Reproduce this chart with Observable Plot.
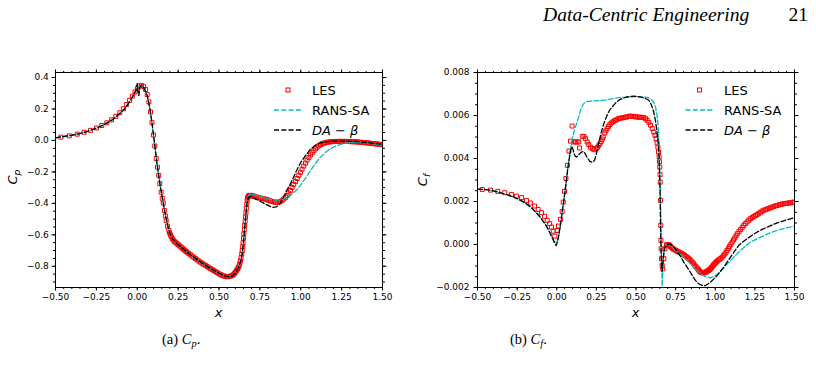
<!DOCTYPE html>
<html>
<head>
<meta charset="utf-8">
<script src="https://cdn.jsdelivr.net/npm/d3@7"></script>
<script src="https://cdn.jsdelivr.net/npm/@observablehq/plot@0.6"></script>
<style>
  html, body { margin: 0; padding: 0; background: #fff; }
  #page { position: relative; width: 816px; height: 370px; overflow: hidden; background: #fff; }
  #page > svg { position: absolute; }
</style>
</head>
<body>
<div id="page"></div>
<script>
// Axis ticks shared by both panels
const xMajor = [-0.5, -0.25, 0, 0.25, 0.5, 0.75, 1, 1.25, 1.5];
const cpMajor = [-0.8, -0.6, -0.4, -0.2, 0, 0.2, 0.4];
const cfMajor = [-0.002, 0, 0.002, 0.004, 0.006, 0.008];
const xMinor = d3.range(-0.5, 1.5001, 0.05);
const cpMinor = d3.range(-0.9, 0.4001, 0.05);
const cfMinor = d3.range(-0.002, 0.00801, 0.0005);

const seriesNames = ["LES", "RANS-SA", "DA − β"];

// Pressure coefficient Cp along x: [x, Cp]
const lesCp = [
  [-0.467,0.021],[-0.416,0.029],[-0.367,0.040],[-0.325,0.052],[-0.286,0.064],[-0.249,0.079],
  [-0.217,0.095],[-0.186,0.112],[-0.157,0.131],[-0.131,0.153],[-0.107,0.176],[-0.085,0.202],
  [-0.065,0.228],[-0.047,0.255],[-0.030,0.282],[-0.014,0.308],[0.001,0.332],[0.014,0.346],
  [0.026,0.350],[0.039,0.342],[0.051,0.324],[0.061,0.292],[0.071,0.245],[0.081,0.181],
  [0.090,0.113],[0.099,0.035],[0.107,-0.035],[0.116,-0.115],[0.124,-0.170],[0.131,-0.222],
  [0.138,-0.275],[0.146,-0.329],[0.153,-0.368],[0.159,-0.398],[0.166,-0.445],[0.172,-0.480],
  [0.177,-0.509],[0.185,-0.545],[0.193,-0.573],[0.198,-0.588],[0.203,-0.600],[0.208,-0.612],
  [0.214,-0.624],[0.221,-0.634],[0.228,-0.643],[0.236,-0.650],[0.244,-0.657],[0.252,-0.664],
  [0.260,-0.671],[0.268,-0.678],[0.275,-0.685],[0.283,-0.692],[0.290,-0.698],[0.298,-0.705],
  [0.305,-0.711],[0.315,-0.719],[0.325,-0.727],[0.336,-0.735],[0.346,-0.743],[0.356,-0.751],
  [0.366,-0.759],[0.377,-0.767],[0.387,-0.774],[0.397,-0.781],[0.407,-0.788],[0.418,-0.795],
  [0.428,-0.802],[0.438,-0.809],[0.448,-0.815],[0.458,-0.821],[0.468,-0.827],[0.478,-0.834],
  [0.488,-0.840],[0.499,-0.847],[0.509,-0.853],[0.518,-0.857],[0.528,-0.861],[0.537,-0.864],
  [0.546,-0.866],[0.555,-0.866],[0.564,-0.864],[0.573,-0.862],[0.581,-0.859],[0.588,-0.853],
  [0.595,-0.845],[0.601,-0.837],[0.607,-0.827],[0.613,-0.818],[0.618,-0.808],[0.623,-0.797],
  [0.627,-0.785],[0.631,-0.766],[0.635,-0.745],[0.639,-0.722],[0.642,-0.700],[0.645,-0.675],
  [0.647,-0.650],[0.650,-0.622],[0.652,-0.594],[0.655,-0.567],[0.657,-0.540],[0.660,-0.514],
  [0.662,-0.488],[0.665,-0.460],[0.667,-0.432],[0.670,-0.405],[0.672,-0.381],[0.675,-0.368],
  [0.677,-0.360],[0.680,-0.354],[0.684,-0.350],[0.689,-0.349],[0.694,-0.350],[0.700,-0.351],
  [0.705,-0.352],[0.712,-0.354],[0.718,-0.356],[0.726,-0.359],[0.733,-0.361],[0.743,-0.364],
  [0.753,-0.366],[0.764,-0.369],[0.774,-0.371],[0.785,-0.374],[0.795,-0.377],[0.805,-0.381],
  [0.815,-0.385],[0.825,-0.388],[0.835,-0.391],[0.845,-0.393],[0.855,-0.394],[0.866,-0.392],
  [0.876,-0.388],[0.886,-0.381],[0.896,-0.372],[0.907,-0.362],[0.917,-0.350],[0.927,-0.335],
  [0.937,-0.318],[0.947,-0.299],[0.957,-0.280],[0.968,-0.261],[0.978,-0.242],[0.988,-0.222],
  [0.998,-0.203],[1.008,-0.183],[1.018,-0.163],[1.029,-0.144],[1.039,-0.125],[1.050,-0.108],
  [1.060,-0.092],[1.070,-0.078],[1.080,-0.065],[1.090,-0.053],[1.100,-0.043],[1.111,-0.034],
  [1.121,-0.027],[1.130,-0.022],[1.140,-0.018],[1.150,-0.015],[1.160,-0.012],[1.170,-0.010],
  [1.180,-0.009],[1.190,-0.008],[1.200,-0.007],[1.210,-0.007],[1.220,-0.006],[1.230,-0.006],
  [1.240,-0.006],[1.250,-0.006],[1.260,-0.006],[1.270,-0.006],[1.280,-0.006],[1.290,-0.007],
  [1.300,-0.007],[1.310,-0.008],[1.320,-0.008],[1.330,-0.009],[1.340,-0.009],[1.350,-0.010],
  [1.360,-0.011],[1.370,-0.012],[1.380,-0.013],[1.390,-0.014],[1.400,-0.015],[1.410,-0.016],
  [1.420,-0.017],[1.430,-0.019],[1.440,-0.020],[1.450,-0.021],[1.460,-0.022],[1.470,-0.023],
  [1.480,-0.024],[1.490,-0.026],[1.497,-0.027]
];
const ransCp = [
  [-0.500,0.017],[-0.450,0.025],[-0.400,0.033],[-0.350,0.044],[-0.300,0.059],[-0.250,0.078],
  [-0.200,0.102],[-0.150,0.133],[-0.100,0.178],[-0.070,0.210],[-0.040,0.258],[-0.020,0.294],
  [0.000,0.330],[0.015,0.345],[0.030,0.346],[0.045,0.326],[0.060,0.288],[0.070,0.243],
  [0.080,0.185],[0.090,0.113],[0.100,0.030],[0.110,-0.055],[0.120,-0.140],[0.130,-0.215],
  [0.140,-0.285],[0.150,-0.345],[0.160,-0.402],[0.170,-0.462],[0.180,-0.512],[0.190,-0.556],
  [0.200,-0.590],[0.215,-0.624],[0.240,-0.654],[0.275,-0.684],[0.300,-0.706],[0.350,-0.745],
  [0.400,-0.782],[0.450,-0.815],[0.500,-0.845],[0.550,-0.864],[0.580,-0.862],[0.600,-0.843],
  [0.620,-0.808],[0.635,-0.762],[0.645,-0.695],[0.655,-0.585],[0.665,-0.465],[0.672,-0.390],
  [0.682,-0.348],[0.700,-0.340],[0.740,-0.352],[0.780,-0.365],[0.815,-0.376],[0.850,-0.380],
  [0.876,-0.377],[0.900,-0.368],[0.937,-0.350],[0.970,-0.320],[0.998,-0.286],[1.030,-0.238],
  [1.060,-0.190],[1.090,-0.145],[1.121,-0.106],[1.150,-0.077],[1.182,-0.053],[1.210,-0.037],
  [1.243,-0.025],[1.280,-0.016],[1.325,-0.011],[1.380,-0.012],[1.447,-0.021],[1.500,-0.030]
];
const daCp = [
  [-0.500,0.017],[-0.450,0.025],[-0.400,0.033],[-0.350,0.044],[-0.300,0.059],[-0.250,0.078],
  [-0.200,0.102],[-0.150,0.133],[-0.100,0.178],[-0.070,0.210],[-0.040,0.258],[-0.020,0.294],
  [-0.008,0.318],[0.000,0.362],[0.005,0.300],[0.010,0.285],[0.016,0.340],[0.024,0.350],
  [0.035,0.343],[0.045,0.326],[0.060,0.288],[0.070,0.243],[0.080,0.185],[0.090,0.113],
  [0.100,0.030],[0.110,-0.055],[0.120,-0.140],[0.130,-0.215],[0.140,-0.285],[0.150,-0.345],
  [0.160,-0.402],[0.170,-0.462],[0.180,-0.512],[0.190,-0.556],[0.200,-0.590],[0.215,-0.624],
  [0.240,-0.654],[0.275,-0.684],[0.300,-0.706],[0.350,-0.745],[0.400,-0.782],[0.450,-0.815],
  [0.500,-0.845],[0.550,-0.866],[0.580,-0.863],[0.600,-0.844],[0.620,-0.808],[0.635,-0.762],
  [0.645,-0.695],[0.655,-0.585],[0.665,-0.465],[0.672,-0.395],[0.680,-0.362],[0.690,-0.357],
  [0.720,-0.370],[0.750,-0.385],[0.780,-0.402],[0.810,-0.418],[0.830,-0.425],[0.850,-0.423],
  [0.870,-0.405],[0.890,-0.370],[0.910,-0.325],[0.937,-0.275],[0.960,-0.225],[0.980,-0.180],
  [1.000,-0.140],[1.030,-0.095],[1.060,-0.055],[1.090,-0.030],[1.120,-0.016],[1.150,-0.009],
  [1.200,-0.005],[1.280,-0.004],[1.350,-0.008],[1.420,-0.015],[1.500,-0.025]
];

// Skin-friction coefficient Cf along x, in units of 1e-3: [x, Cf]
const lesCf = [
  [-0.470,2.56],[-0.418,2.53],[-0.372,2.47],[-0.328,2.41],[-0.286,2.33],[-0.254,2.25],
  [-0.222,2.18],[-0.191,2.05],[-0.166,1.93],[-0.140,1.79],[-0.117,1.63],[-0.096,1.48],
  [-0.077,1.31],[-0.060,1.12],[-0.045,0.97],[-0.033,0.81],[-0.022,0.62],[-0.012,0.39],
  [0.003,0.65],[0.011,0.86],[0.024,1.17],[0.034,1.54],[0.041,1.97],[0.049,2.47],
  [0.058,3.07],[0.067,3.68],[0.077,4.35],[0.087,4.81],[0.097,5.51],[0.108,4.77],
  [0.118,4.77],[0.128,4.77],[0.139,4.77],[0.144,4.49],[0.161,5.03],[0.172,5.03],
  [0.181,4.92],[0.192,4.77],[0.202,4.65],[0.213,4.53],[0.224,4.46],[0.234,4.41],
  [0.249,4.46],[0.258,4.53],[0.266,4.61],[0.273,4.70],[0.280,4.80],[0.287,4.90],
  [0.293,5.00],[0.303,5.19],[0.310,5.29],[0.318,5.39],[0.326,5.49],[0.335,5.58],
  [0.344,5.65],[0.354,5.70],[0.362,5.75],[0.371,5.78],[0.381,5.82],[0.392,5.86],
  [0.402,5.88],[0.413,5.89],[0.423,5.90],[0.434,5.92],[0.444,5.94],[0.455,5.96],
  [0.465,5.97],[0.476,5.96],[0.486,5.95],[0.497,5.94],[0.508,5.93],[0.518,5.92],
  [0.528,5.92],[0.539,5.91],[0.549,5.90],[0.560,5.85],[0.571,5.78],[0.581,5.68],
  [0.592,5.55],[0.602,5.40],[0.612,5.23],[0.620,5.08],[0.627,4.92],[0.633,4.72],
  [0.638,4.53],[0.642,4.30],[0.646,4.07],[0.648,3.85],[0.650,3.60],[0.652,3.25],
  [0.653,2.90],[0.655,2.05],[0.656,0.89],[0.657,0.19],[0.659,-0.20],[0.661,-0.66],
  [0.665,-0.98],[0.669,-1.13],[0.676,-0.66],[0.682,-0.20],[0.692,-0.01],[0.700,0.00],
  [0.707,-0.01],[0.712,-0.05],[0.717,-0.09],[0.722,-0.13],[0.728,-0.17],[0.736,-0.21],
  [0.744,-0.24],[0.752,-0.28],[0.760,-0.31],[0.768,-0.34],[0.775,-0.37],[0.783,-0.40],
  [0.791,-0.43],[0.799,-0.47],[0.807,-0.51],[0.815,-0.55],[0.823,-0.59],[0.831,-0.64],
  [0.839,-0.70],[0.847,-0.76],[0.855,-0.82],[0.863,-0.89],[0.870,-0.96],[0.878,-1.03],
  [0.886,-1.10],[0.892,-1.15],[0.897,-1.20],[0.902,-1.25],[0.907,-1.29],[0.913,-1.30],
  [0.918,-1.31],[0.923,-1.32],[0.928,-1.32],[0.934,-1.31],[0.939,-1.29],[0.944,-1.27],
  [0.949,-1.24],[0.955,-1.22],[0.960,-1.19],[0.965,-1.16],[0.970,-1.13],[0.976,-1.08],
  [0.981,-1.03],[0.986,-0.98],[0.991,-0.93],[0.997,-0.89],[1.002,-0.85],[1.007,-0.81],
  [1.012,-0.77],[1.020,-0.72],[1.028,-0.68],[1.036,-0.64],[1.044,-0.59],[1.052,-0.52],
  [1.060,-0.44],[1.068,-0.36],[1.075,-0.28],[1.083,-0.18],[1.091,-0.08],[1.099,0.02],
  [1.107,0.11],[1.115,0.21],[1.123,0.30],[1.131,0.40],[1.139,0.50],[1.150,0.60],
  [1.160,0.70],[1.170,0.80],[1.180,0.89],[1.190,0.97],[1.201,1.05],[1.212,1.13],
  [1.222,1.20],[1.233,1.25],[1.243,1.30],[1.254,1.35],[1.265,1.40],[1.275,1.45],
  [1.285,1.50],[1.296,1.55],[1.306,1.59],[1.317,1.62],[1.328,1.65],[1.338,1.68],
  [1.349,1.71],[1.360,1.74],[1.370,1.77],[1.381,1.80],[1.391,1.82],[1.402,1.84],
  [1.412,1.86],[1.423,1.88],[1.433,1.90],[1.444,1.91],[1.454,1.92],[1.465,1.93],
  [1.475,1.94],[1.486,1.96],[1.496,1.97]
];
const ransCf = [
  [-0.500,2.58],[-0.450,2.55],[-0.418,2.52],[-0.380,2.46],[-0.334,2.36],[-0.300,2.29],
  [-0.271,2.21],[-0.240,2.10],[-0.208,1.97],[-0.180,1.83],[-0.155,1.67],[-0.133,1.51],
  [-0.113,1.35],[-0.097,1.20],[-0.082,1.04],[-0.065,0.85],[-0.050,0.65],[-0.040,0.50],
  [-0.029,0.34],[-0.014,0.13],[-0.004,0.06],[0.005,0.20],[0.013,0.45],[0.019,0.73],
  [0.027,1.10],[0.034,1.51],[0.042,1.90],[0.049,2.28],[0.056,2.68],[0.062,3.06],
  [0.070,3.55],[0.078,3.98],[0.087,4.46],[0.097,4.85],[0.108,5.23],[0.118,5.47],
  [0.129,5.70],[0.140,5.98],[0.150,6.24],[0.160,6.42],[0.171,6.56],[0.181,6.63],
  [0.192,6.66],[0.234,6.68],[0.297,6.71],[0.360,6.79],[0.402,6.84],[0.450,6.86],
  [0.508,6.87],[0.550,6.86],[0.571,6.84],[0.590,6.79],[0.602,6.71],[0.614,6.58],
  [0.623,6.40],[0.631,6.10],[0.638,5.70],[0.642,5.10],[0.646,4.30],[0.650,3.50],
  [0.653,2.75],[0.655,2.00],[0.657,1.20],[0.659,0.40],[0.661,-0.36],[0.663,-1.20],
  [0.665,-1.95],[0.668,-1.40],[0.671,-0.82],[0.675,-0.45],[0.679,-0.20],[0.687,-0.05],
  [0.696,-0.01],[0.706,-0.01],[0.717,-0.04],[0.733,-0.15],[0.749,-0.28],[0.770,-0.40],
  [0.791,-0.51],[0.812,-0.66],[0.833,-0.82],[0.854,-0.97],[0.875,-1.13],[0.896,-1.28],
  [0.917,-1.41],[0.933,-1.48],[0.949,-1.52],[0.970,-1.55],[0.986,-1.51],[1.002,-1.44],
  [1.023,-1.31],[1.044,-1.16],[1.070,-0.95],[1.096,-0.74],[1.128,-0.50],[1.159,-0.28],
  [1.190,-0.08],[1.222,0.11],[1.254,0.23],[1.286,0.34],[1.318,0.45],[1.349,0.55],
  [1.380,0.63],[1.412,0.70],[1.454,0.78],[1.500,0.85]
];
const daCf = [
  [-0.500,2.58],[-0.450,2.55],[-0.418,2.52],[-0.380,2.46],[-0.334,2.36],[-0.300,2.29],
  [-0.271,2.21],[-0.240,2.10],[-0.208,1.97],[-0.180,1.83],[-0.155,1.67],[-0.133,1.51],
  [-0.113,1.35],[-0.097,1.20],[-0.082,1.04],[-0.065,0.85],[-0.050,0.65],[-0.040,0.50],
  [-0.029,0.32],[-0.014,0.08],[-0.003,-0.05],[0.005,0.15],[0.013,0.42],[0.019,0.71],
  [0.027,1.08],[0.034,1.50],[0.042,1.90],[0.049,2.28],[0.056,2.68],[0.062,3.06],
  [0.070,3.55],[0.078,3.95],[0.087,4.38],[0.095,4.55],[0.102,4.45],[0.108,4.25],
  [0.117,4.10],[0.125,4.07],[0.135,4.15],[0.146,4.23],[0.157,4.30],[0.167,4.33],
  [0.178,4.25],[0.188,4.10],[0.199,3.97],[0.209,3.87],[0.220,3.83],[0.230,3.84],
  [0.238,3.92],[0.245,4.07],[0.252,4.28],[0.259,4.53],[0.268,4.80],[0.276,5.08],
  [0.287,5.37],[0.297,5.62],[0.310,5.87],[0.322,6.09],[0.336,6.27],[0.350,6.40],
  [0.365,6.53],[0.381,6.65],[0.400,6.75],[0.434,6.84],[0.460,6.88],[0.486,6.90],
  [0.510,6.88],[0.539,6.84],[0.560,6.79],[0.581,6.71],[0.597,6.50],[0.612,6.16],
  [0.623,5.75],[0.633,5.23],[0.640,4.70],[0.644,4.30],[0.648,3.50],[0.651,2.75],
  [0.653,1.80],[0.655,0.89],[0.657,0.10],[0.659,-0.66],[0.662,-1.10],[0.665,-1.25],
  [0.669,-0.90],[0.676,-0.36],[0.684,-0.10],[0.692,-0.04],[0.703,0.02],[0.713,0.03],
  [0.725,-0.04],[0.738,-0.12],[0.754,-0.26],[0.770,-0.43],[0.786,-0.62],[0.801,-0.82],
  [0.822,-1.05],[0.843,-1.29],[0.860,-1.50],[0.875,-1.67],[0.891,-1.80],[0.907,-1.87],
  [0.922,-1.91],[0.938,-1.91],[0.954,-1.84],[0.970,-1.75],[0.991,-1.60],[1.012,-1.44],
  [1.033,-1.25],[1.054,-1.05],[1.075,-0.82],[1.096,-0.59],[1.122,-0.31],[1.149,-0.04],
  [1.175,0.13],[1.201,0.27],[1.233,0.43],[1.265,0.58],[1.296,0.70],[1.328,0.81],
  [1.360,0.91],[1.391,1.01],[1.422,1.08],[1.454,1.15],[1.496,1.25]
];

const lesColor = "red";
const ransColor = "#00bfbf";
const daColor = "#000";
const dash = "5,2.3";

const page = document.getElementById("page");

function panel(o) {
  const xv = d => d[0];
  const yv = d => d[1] * o.unit;
  const blank = () => "";
  const svg = Plot.plot({
    width: 400,
    height: 265,
    marginTop: 12,
    marginBottom: 38,
    marginLeft: o.marginLeft,
    marginRight: o.marginRight,
    x: {domain: [-0.5, 1.5]},
    y: {domain: o.yDomain},
    style: {fontFamily: "'DejaVu Sans', sans-serif", fontSize: "9px", color: "#000", background: "transparent", overflow: "visible"},
    marks: [
      Plot.dot(o.les, {x: xv, y: yv, symbol: "square", r: 2.25, stroke: lesColor, fill: "none", strokeWidth: 1, clip: true}),
      Plot.line(o.rans, {x: xv, y: yv, stroke: ransColor, strokeWidth: 1.3, strokeDasharray: dash, clip: true}),
      Plot.line(o.da, {x: xv, y: yv, stroke: daColor, strokeWidth: 1.3, strokeDasharray: dash, clip: true}),
      // minor ticks on all four sides
      Plot.axisX(xMinor, {anchor: "bottom", tickSize: 2, tickFormat: blank, label: null}),
      Plot.axisX(xMinor, {anchor: "top", tickSize: 2, tickFormat: blank, label: null}),
      Plot.axisY(o.yMinor, {anchor: "left", tickSize: 2, tickFormat: blank, label: null}),
      Plot.axisY(o.yMinor, {anchor: "right", tickSize: 2, tickFormat: blank, label: null}),
      // major ticks, labelled on bottom and left
      Plot.axisX(xMajor, {anchor: "bottom", tickSize: 3.5, tickPadding: 3, tickFormat: d3.format(".2f"), label: null}),
      Plot.axisX(xMajor, {anchor: "top", tickSize: 3.5, tickFormat: blank, label: null}),
      Plot.axisY(o.yMajor, {anchor: "left", tickSize: 3.5, tickPadding: o.yPad, tickFormat: d3.format(o.yFormat), label: null}),
      Plot.axisY(o.yMajor, {anchor: "right", tickSize: 3.5, tickFormat: blank, label: null}),
      Plot.frame({stroke: "#000", strokeWidth: 1})
    ]
  });
  svg.style.left = o.left + "px";
  svg.style.top = "60px";
  page.appendChild(svg);
}

panel({les: lesCp, rans: ransCp, da: daCp, unit: 1, yDomain: [-0.935, 0.432],
       yMajor: cpMajor, yMinor: cpMinor, yFormat: ".1f", yPad: 3.2,
       left: 0, marginLeft: 55, marginRight: 18});
panel({les: lesCf, rans: ransCf, da: daCf, unit: 1e-3, yDomain: [-0.002, 0.008],
       yMajor: cfMajor, yMinor: cfMinor, yFormat: ".3f", yPad: 4.5,
       left: 410, marginLeft: 67, marginRight: 16});

// Page header, axis labels, legends and sub-captions
const ov = d3.select(page).append("svg")
  .attr("width", 816).attr("height", 370)
  .style("left", "0px").style("top", "0px");

const serif = "'Liberation Serif', 'Times New Roman', serif";
const sans = "'DejaVu Sans', sans-serif";

ov.append("text").attr("x", 543).attr("y", 21)
  .attr("font-family", serif).attr("font-style", "italic").attr("font-size", 19.6)
  .text("Data-Centric Engineering");
ov.append("text").attr("x", 808).attr("y", 21).attr("text-anchor", "end")
  .attr("font-family", serif).attr("font-size", 19.6).text("21");

function symLabel(x, y, base, sub, rotate) {
  const t = ov.append("text").attr("font-family", sans).attr("font-size", 13)
    .attr("text-anchor", "middle");
  if (rotate) t.attr("transform", `translate(${x},${y}) rotate(-90)`);
  else t.attr("x", x).attr("y", y);
  t.append("tspan").attr("font-style", "italic").text(base);
  if (sub) t.append("tspan").attr("font-style", "italic").attr("font-size", 9.2).attr("dy", 2.6).text(sub);
}
symLabel(17, 177, "C", "p", true);
symLabel(427, 180, "C", "f", true);
symLabel(218.5, 316.5, "x", null, false);
symLabel(635.5, 316.5, "x", null, false);

function legend(cx, tx) {
  const rows = [90, 110, 130];
  const g = ov.append("g");
  g.append("rect").attr("x", cx - 2).attr("y", rows[0] - 2).attr("width", 4).attr("height", 4)
    .attr("fill", "none").attr("stroke", lesColor).attr("stroke-width", 1);
  g.append("line").attr("x1", cx - 14).attr("x2", cx + 14).attr("y1", rows[1]).attr("y2", rows[1])
    .attr("stroke", ransColor).attr("stroke-width", 1.3).attr("stroke-dasharray", dash);
  g.append("line").attr("x1", cx - 14).attr("x2", cx + 14).attr("y1", rows[2]).attr("y2", rows[2])
    .attr("stroke", daColor).attr("stroke-width", 1.3).attr("stroke-dasharray", dash);
  const txt = (y) => g.append("text").attr("x", tx).attr("y", y + 4.7)
    .attr("font-family", sans).attr("font-size", 13);
  txt(rows[0]).text(seriesNames[0]);
  txt(rows[1]).text(seriesNames[1]);
  const t3 = txt(rows[2]);
  t3.append("tspan").attr("font-style", "italic").text("DA");
  t3.append("tspan").text(" − ");
  t3.append("tspan").attr("font-style", "italic").text("β");
}
legend(288, 312);
legend(699.5, 724);

function caption(x, letter, sub) {
  const t = ov.append("text").attr("x", x).attr("y", 344)
    .attr("font-family", serif).attr("font-size", 14.5);
  t.append("tspan").text(`(${letter}) `);
  t.append("tspan").attr("font-style", "italic").text("C");
  t.append("tspan").attr("font-style", "italic").attr("font-size", 10.5).attr("dy", 2.8).text(sub);
  t.append("tspan").attr("dy", -2.8).text(".");
}
caption(162, "a", "p");
caption(510, "b", "f");
</script>
</body>
</html>
